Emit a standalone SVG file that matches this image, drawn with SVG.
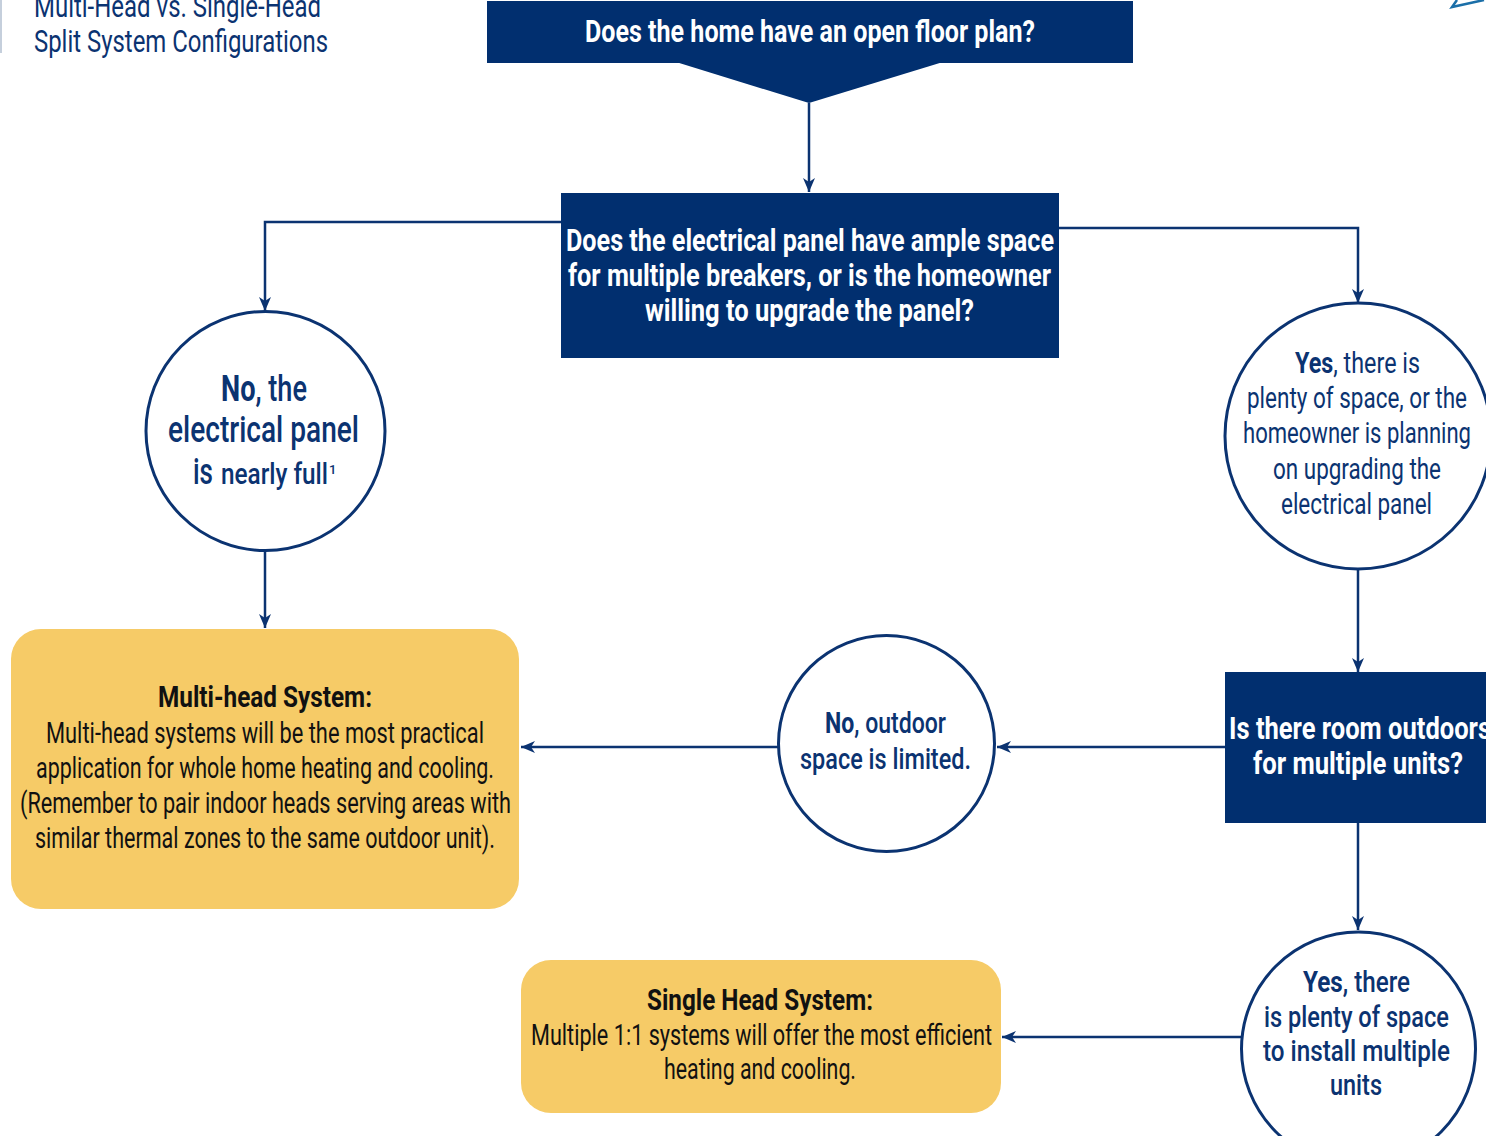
<svg xmlns="http://www.w3.org/2000/svg" width="1486" height="1136" viewBox="0 0 1486 1136">
<style>
.q{fill:#012f6f}
.qt{fill:#fff;font-family:Roboto,"Liberation Sans",sans-serif;font-weight:700;font-size:31px}
.c{fill:#fff;stroke:#0b3371;stroke-width:3}
.ct{fill:#0b3371;font-family:Roboto,"Liberation Sans",sans-serif;font-weight:400;font-size:30px}
.r{fill:#f6cb67}
.rt{fill:#111;font-family:Roboto,"Liberation Sans",sans-serif;font-weight:400;font-size:30px}
.title{fill:#0b3371;font-family:Roboto,"Liberation Sans",sans-serif;font-weight:400;font-size:31px}
.e{fill:none;stroke:#0b3371;stroke-width:2.5}
.m{font-weight:500}
.b,.rt.b{font-weight:700}
</style>
<defs>
<marker id="ah" markerUnits="userSpaceOnUse" viewBox="0 0 14 12" refX="14" refY="6" markerWidth="14" markerHeight="12" orient="auto">
<path d="M0,0 L14,6 L0,12 L4,6 Z" fill="#0b3371"/>
</marker>
</defs>
<rect width="1486" height="1136" fill="#fff"/>
<g id="header">
<rect x="0" y="0" width="2" height="53" fill="#c5cfdc"/>
<text class="title" x="34" y="17" textLength="287" lengthAdjust="spacingAndGlyphs">Multi-Head vs. Single-Head</text>
<text class="title" x="34" y="52" textLength="294" lengthAdjust="spacingAndGlyphs">Split System Configurations</text>
<path d="M1484,0 L1452,7 L1457,0" fill="none" stroke="#1b6fa8" stroke-width="2.5"/>
</g>
<g id="connectors">
<path class="e" d="M809,103 V192" marker-end="url(#ah)"/>
<path class="e" d="M561,222 H265 V311" marker-end="url(#ah)"/>
<path class="e" d="M1059,228 H1358 V303" marker-end="url(#ah)"/>
<path class="e" d="M265,551 V628" marker-end="url(#ah)"/>
<path class="e" d="M1358,569 V672" marker-end="url(#ah)"/>
<path class="e" d="M1225,747 H997" marker-end="url(#ah)"/>
<path class="e" d="M778,747 H521" marker-end="url(#ah)"/>
<path class="e" d="M1358,823 V930" marker-end="url(#ah)"/>
<path class="e" d="M1241,1037 H1002" marker-end="url(#ah)"/>
</g>
<g id="q1">
<rect class="q" x="487" y="1" width="646" height="62"/>
<polygon class="q" points="676,62 943,62 809,103"/>
<text class="qt" x="810" y="42" text-anchor="middle" textLength="450" lengthAdjust="spacingAndGlyphs">Does the home have an open floor plan?</text>
</g>
<g id="q2">
<rect class="q" x="561" y="193" width="498" height="165"/>
<text class="qt" x="810" y="251" text-anchor="middle" textLength="488" lengthAdjust="spacingAndGlyphs">Does the electrical panel have ample space</text>
<text class="qt" x="809.5" y="286" text-anchor="middle" textLength="483" lengthAdjust="spacingAndGlyphs">for multiple breakers, or is the homeowner</text>
<text class="qt" x="809.5" y="321" text-anchor="middle" textLength="329" lengthAdjust="spacingAndGlyphs">willing to upgrade the panel?</text>
</g>
<g id="no-panel">
<circle class="c" cx="265.5" cy="431" r="119.5"/>
<text class="ct m" x="221" y="401" textLength="86" lengthAdjust="spacingAndGlyphs" style="font-size:36px"><tspan class="b">No</tspan>, the</text>
<text class="ct m" x="168" y="442" textLength="191" lengthAdjust="spacingAndGlyphs" style="font-size:36px">electrical panel</text>
<text class="ct m" x="193" y="484" textLength="20" lengthAdjust="spacingAndGlyphs" style="font-size:36px">is</text>
<text class="ct m" x="221" y="484" textLength="107" lengthAdjust="spacingAndGlyphs">nearly full</text>
<text class="ct m" x="329" y="474" style="font-size:13px">1</text>
</g>
<g id="yes-panel">
<circle class="c" cx="1358" cy="436" r="133"/>
<text class="ct" x="1295" y="373" textLength="125" lengthAdjust="spacingAndGlyphs"><tspan class="b">Yes</tspan>, there is</text>
<text class="ct" x="1357" y="408" text-anchor="middle" textLength="220" lengthAdjust="spacingAndGlyphs">plenty of space, or the</text>
<text class="ct" x="1357" y="443" text-anchor="middle" textLength="228" lengthAdjust="spacingAndGlyphs">homeowner is planning</text>
<text class="ct" x="1357" y="479" text-anchor="middle" textLength="168" lengthAdjust="spacingAndGlyphs">on upgrading the</text>
<text class="ct" x="1356.5" y="514" text-anchor="middle" textLength="151" lengthAdjust="spacingAndGlyphs">electrical panel</text>
</g>
<g id="q3">
<rect class="q" x="1225" y="672" width="270" height="151"/>
<text class="qt" x="1229" y="739" textLength="262" lengthAdjust="spacingAndGlyphs">Is there room outdoors</text>
<text class="qt" x="1358" y="774" text-anchor="middle" textLength="210" lengthAdjust="spacingAndGlyphs">for multiple units?</text>
</g>
<g id="no-outdoor">
<circle class="c" cx="886.5" cy="743.5" r="108"/>
<text class="ct m" x="825" y="733" textLength="121" lengthAdjust="spacingAndGlyphs"><tspan class="b">No</tspan>, outdoor</text>
<text class="ct m" x="885.5" y="769" text-anchor="middle" textLength="171" lengthAdjust="spacingAndGlyphs">space is limited.</text>
</g>
<g id="yes-outdoor">
<circle class="c" cx="1358.5" cy="1049" r="117"/>
<text class="ct m" x="1303" y="992" textLength="107" lengthAdjust="spacingAndGlyphs"><tspan class="b">Yes</tspan>, there</text>
<text class="ct m" x="1356.5" y="1027" text-anchor="middle" textLength="185" lengthAdjust="spacingAndGlyphs">is plenty of space</text>
<text class="ct m" x="1356.5" y="1061" text-anchor="middle" textLength="187" lengthAdjust="spacingAndGlyphs">to install multiple</text>
<text class="ct m" x="1356" y="1095" text-anchor="middle" textLength="52" lengthAdjust="spacingAndGlyphs">units</text>
</g>
<g id="multi-head">
<rect class="r" x="11" y="629" width="508" height="280" rx="30"/>
<text class="rt b" x="265" y="707" text-anchor="middle" textLength="214" lengthAdjust="spacingAndGlyphs">Multi-head System:</text>
<text class="rt" x="265" y="743" text-anchor="middle" textLength="438" lengthAdjust="spacingAndGlyphs">Multi-head systems will be the most practical</text>
<text class="rt" x="265" y="778" text-anchor="middle" textLength="458" lengthAdjust="spacingAndGlyphs">application for whole home heating and cooling.</text>
<text class="rt" x="265.5" y="813" text-anchor="middle" textLength="491" lengthAdjust="spacingAndGlyphs">(Remember to pair indoor heads serving areas with</text>
<text class="rt" x="265" y="848" text-anchor="middle" textLength="460" lengthAdjust="spacingAndGlyphs">similar thermal zones to the same outdoor unit).</text>
</g>
<g id="single-head">
<rect class="r" x="521" y="960" width="480" height="153" rx="30"/>
<text class="rt b" x="760" y="1010" text-anchor="middle" textLength="226" lengthAdjust="spacingAndGlyphs">Single Head System:</text>
<text class="rt" x="761.5" y="1045" text-anchor="middle" textLength="461" lengthAdjust="spacingAndGlyphs">Multiple 1:1 systems will offer the most efficient</text>
<text class="rt" x="760" y="1079" text-anchor="middle" textLength="192" lengthAdjust="spacingAndGlyphs">heating and cooling.</text>
</g>
</svg>
